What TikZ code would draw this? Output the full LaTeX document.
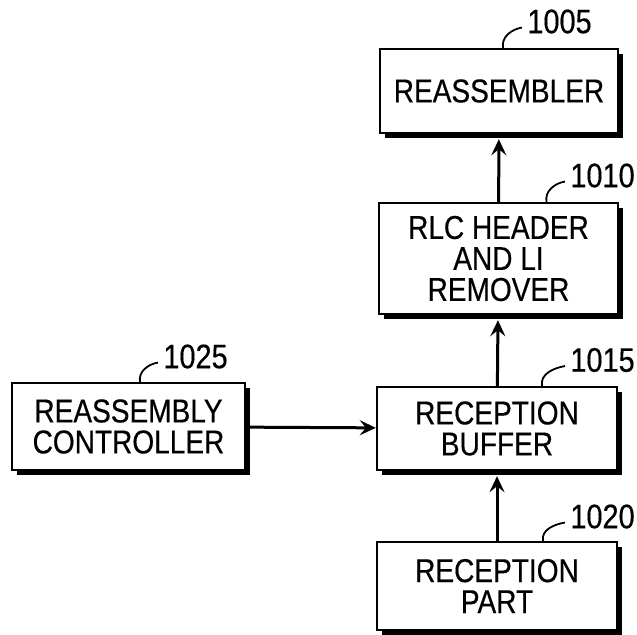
\documentclass[tikz,border=0pt]{standalone}
\usepackage{fontspec}
\setmainfont{Liberation Sans}[FakeStretch=0.85, FakeBold=0.4]
\usetikzlibrary{arrows.meta,shadows}

\begin{document}
\begin{tikzpicture}[x=0.5pt, y=-0.5pt,
    box/.style={rectangle, draw, line width=1.2pt, fill=white, align=center, inner sep=0pt,
        font=\fontsize{16.5}{15.5}\selectfont,
        drop shadow={shadow xshift=2.5pt, shadow yshift=-2.5pt, opacity=1, fill=black}},
    refnum/.style={anchor=west, inner sep=0pt, font=\fontsize{17}{17}\selectfont},
    leader/.style={line width=0.9pt},
    flow/.style={-{Stealth[length=8pt, width=7.5pt, inset=3pt]}, line width=1.5pt},
    rise/.style={flow, shorten >=2.5pt}]
    \useasboundingbox (0,0) rectangle (637,634);
    % Rectangle: Reassembler
    \node[box, minimum width=119pt, minimum height=42pt] (reassembler) at (499,91) {REASSEMBLER};
    \node[refnum] (reassemblerNum) at (527,21.5) {1005};
    % Rectangle: RLC header and LI remover
    \node[box, minimum width=119.5pt, minimum height=55.5pt] (remover) at (498.5,258.5) {RLC HEADER\\AND LI\\REMOVER};
    \node[refnum] (removerNum) at (570,175.5) {1010};
    % Rectangle: Reception buffer
    \node[box, minimum width=120pt, minimum height=41.5pt] (buffer) at (497,428.5) {RECEPTION\\BUFFER};
    \node[refnum] (bufferNum) at (570,360) {1015};
    % Rectangle: Reception part
    \node[box, minimum width=120pt, minimum height=44pt] (receiver) at (497,586) {RECEPTION\\PART};
    \node[refnum] (receiverNum) at (570,516.5) {1020};
    % Rectangle: Reassembly controller
    \node[box, minimum width=116.5pt, minimum height=43.5pt] (controller) at (128.5,426.5) {REASSEMBLY\\CONTROLLER};
    \node[refnum] (controllerNum) at (163,356.5) {1025};
    % Leaders
    \draw[leader] ([xshift=2pt]reassembler.north) to[out=100, in=190] ([xshift=-2.5pt, yshift=-3pt]reassemblerNum.west);
    \draw[leader] ([xshift=24pt]remover.north) to[out=100, in=190] ([xshift=-2.5pt, yshift=-3pt]removerNum.west);
    \draw[leader] ([xshift=22.5pt]buffer.north) to[out=100, in=190] ([xshift=-2.5pt, yshift=-3pt]bufferNum.west);
    \draw[leader] ([xshift=23pt]receiver.north) to[out=100, in=190] ([xshift=-2.5pt, yshift=-3pt]receiverNum.west);
    \draw[leader] ([xshift=5.75pt]controller.north) to[out=100, in=190] ([xshift=-2.5pt, yshift=-3pt]controllerNum.west);
    % Arrows
    \draw[rise] (remover) -- (reassembler);
    \draw[rise] (buffer) -- (remover);
    \draw[rise] (receiver) -- (buffer);
    \draw[flow] (controller) -- (buffer);
\end{tikzpicture}
\end{document}
